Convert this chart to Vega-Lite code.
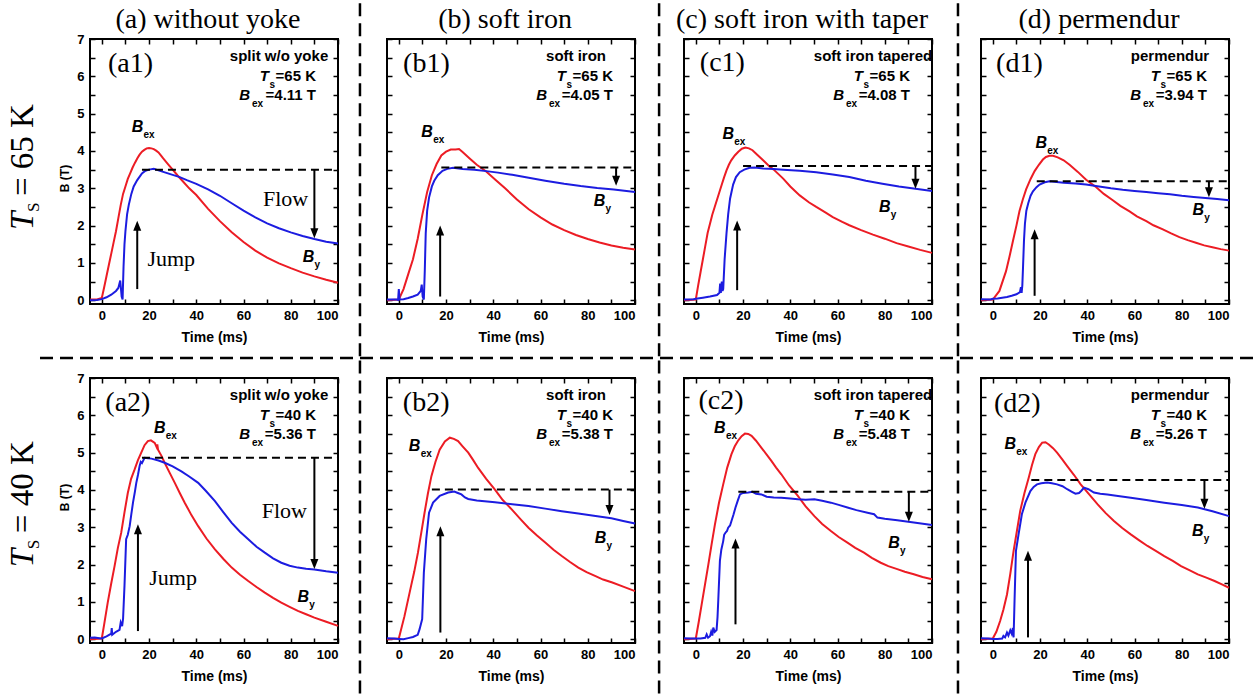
{
"padding": 0,
"background": "white",
"spacing": -3,
"config": {
 "view": {"stroke": "black", "strokeWidth": 2},
 "text": {"color": "black"},
 "rule": {"color": "black"},
 "point": {"color": "black"},
 "axis": {"domain": false, "grid": false, "labelOverlap": false, "tickCount": 50, "tickColor": "black", "tickWidth": 1.5, "tickSize": -5, "labelFont": "Liberation Sans", "labelFontWeight": "bold", "labelFontSize": 13, "labelColor": "black", "titleFont": "Liberation Sans", "titleFontWeight": "bold", "titleColor": "black"},
 "style": {
  "box": {"font": "Liberation Sans", "fontWeight": "bold", "fontSize": 15},
  "sub": {"font": "Liberation Sans", "fontWeight": "bold", "fontSize": 10},
  "bi": {"font": "Liberation Sans", "fontWeight": "bold", "fontStyle": "italic", "fontSize": 15},
  "lab": {"font": "Liberation Sans", "fontWeight": "bold", "fontStyle": "italic", "fontSize": 16},
  "pl": {"font": "Liberation Serif", "fontSize": 28},
  "coltitle": {"font": "Liberation Serif", "fontSize": 28},
  "fj": {"font": "Liberation Serif", "fontSize": 22},
  "rowlab": {"font": "Liberation Serif", "fontSize": 33},
  "arr": {"strokeWidth": 2},
  "dash": {"strokeWidth": 2, "strokeDash": [8, 5]},
  "sep": {"strokeWidth": 2.5, "strokeDash": [13, 7]}
 }
},
"datasets": {"curves": [
{"p":"a1","s":"Bex","t":-5,"B":0.02},{"p":"a1","s":"Bex","t":-2,"B":0.02},{"p":"a1","s":"Bex","t":0,"B":0.06},{"p":"a1","s":"Bex","t":1,"B":0.35},{"p":"a1","s":"Bex","t":2,"B":0.65},{"p":"a1","s":"Bex","t":3,"B":0.95},{"p":"a1","s":"Bex","t":4,"B":1.25},{"p":"a1","s":"Bex","t":5,"B":1.55},{"p":"a1","s":"Bex","t":6,"B":1.85},{"p":"a1","s":"Bex","t":7,"B":2.2},{"p":"a1","s":"Bex","t":8,"B":2.55},{"p":"a1","s":"Bex","t":9,"B":2.85},{"p":"a1","s":"Bex","t":10,"B":3.05},{"p":"a1","s":"Bex","t":11,"B":3.25},{"p":"a1","s":"Bex","t":12,"B":3.4},{"p":"a1","s":"Bex","t":13,"B":3.55},{"p":"a1","s":"Bex","t":14,"B":3.68},{"p":"a1","s":"Bex","t":15,"B":3.8},{"p":"a1","s":"Bex","t":16,"B":3.9},{"p":"a1","s":"Bex","t":17,"B":3.98},{"p":"a1","s":"Bex","t":18,"B":4.03},{"p":"a1","s":"Bex","t":19,"B":4.07},{"p":"a1","s":"Bex","t":20,"B":4.08},{"p":"a1","s":"Bex","t":21,"B":4.07},{"p":"a1","s":"Bex","t":22,"B":4.05},{"p":"a1","s":"Bex","t":23,"B":4.01},{"p":"a1","s":"Bex","t":24,"B":3.96},{"p":"a1","s":"Bex","t":25,"B":3.88},{"p":"a1","s":"Bex","t":26,"B":3.8},{"p":"a1","s":"Bex","t":28,"B":3.65},{"p":"a1","s":"Bex","t":30,"B":3.5},{"p":"a1","s":"Bex","t":32,"B":3.35},{"p":"a1","s":"Bex","t":34,"B":3.21},{"p":"a1","s":"Bex","t":37,"B":3.0},{"p":"a1","s":"Bex","t":40,"B":2.82},{"p":"a1","s":"Bex","t":45,"B":2.45},{"p":"a1","s":"Bex","t":50,"B":2.12},{"p":"a1","s":"Bex","t":55,"B":1.82},{"p":"a1","s":"Bex","t":60,"B":1.56},{"p":"a1","s":"Bex","t":65,"B":1.33},{"p":"a1","s":"Bex","t":70,"B":1.14},{"p":"a1","s":"Bex","t":75,"B":0.99},{"p":"a1","s":"Bex","t":80,"B":0.86},{"p":"a1","s":"Bex","t":85,"B":0.74},{"p":"a1","s":"Bex","t":90,"B":0.64},{"p":"a1","s":"Bex","t":95,"B":0.55},{"p":"a1","s":"Bex","t":100,"B":0.47},
{"p":"a1","s":"By","t":-5,"B":0.0},{"p":"a1","s":"By","t":-2,"B":0.01},{"p":"a1","s":"By","t":0,"B":0.03},{"p":"a1","s":"By","t":2,"B":0.08},{"p":"a1","s":"By","t":4,"B":0.15},{"p":"a1","s":"By","t":6,"B":0.25},{"p":"a1","s":"By","t":7,"B":0.33},{"p":"a1","s":"By","t":7.8,"B":0.53},{"p":"a1","s":"By","t":8.4,"B":0.1},{"p":"a1","s":"By","t":8.8,"B":0.02},{"p":"a1","s":"By","t":9.2,"B":0.9},{"p":"a1","s":"By","t":9.6,"B":1.5},{"p":"a1","s":"By","t":10,"B":1.85},{"p":"a1","s":"By","t":10.7,"B":2.3},{"p":"a1","s":"By","t":11.4,"B":2.55},{"p":"a1","s":"By","t":12.5,"B":2.85},{"p":"a1","s":"By","t":13.5,"B":3.05},{"p":"a1","s":"By","t":15,"B":3.22},{"p":"a1","s":"By","t":17,"B":3.4},{"p":"a1","s":"By","t":18.5,"B":3.47},{"p":"a1","s":"By","t":20,"B":3.5},{"p":"a1","s":"By","t":22,"B":3.52},{"p":"a1","s":"By","t":24,"B":3.48},{"p":"a1","s":"By","t":26,"B":3.44},{"p":"a1","s":"By","t":28,"B":3.4},{"p":"a1","s":"By","t":30,"B":3.36},{"p":"a1","s":"By","t":33,"B":3.3},{"p":"a1","s":"By","t":36,"B":3.22},{"p":"a1","s":"By","t":40,"B":3.12},{"p":"a1","s":"By","t":45,"B":2.97},{"p":"a1","s":"By","t":50,"B":2.8},{"p":"a1","s":"By","t":55,"B":2.6},{"p":"a1","s":"By","t":60,"B":2.4},{"p":"a1","s":"By","t":65,"B":2.22},{"p":"a1","s":"By","t":70,"B":2.06},{"p":"a1","s":"By","t":75,"B":1.93},{"p":"a1","s":"By","t":80,"B":1.82},{"p":"a1","s":"By","t":85,"B":1.72},{"p":"a1","s":"By","t":90,"B":1.64},{"p":"a1","s":"By","t":95,"B":1.57},{"p":"a1","s":"By","t":100,"B":1.52},
{"p":"b1","s":"Bex","t":-5,"B":0.0},{"p":"b1","s":"Bex","t":0,"B":0.02},{"p":"b1","s":"Bex","t":2,"B":0.3},{"p":"b1","s":"Bex","t":4,"B":0.7},{"p":"b1","s":"Bex","t":6,"B":1.1},{"p":"b1","s":"Bex","t":8,"B":1.65},{"p":"b1","s":"Bex","t":10,"B":2.3},{"p":"b1","s":"Bex","t":12,"B":2.9},{"p":"b1","s":"Bex","t":14,"B":3.35},{"p":"b1","s":"Bex","t":16,"B":3.65},{"p":"b1","s":"Bex","t":18,"B":3.88},{"p":"b1","s":"Bex","t":20,"B":3.98},{"p":"b1","s":"Bex","t":22,"B":4.04},{"p":"b1","s":"Bex","t":24,"B":4.04},{"p":"b1","s":"Bex","t":25.5,"B":4.05},{"p":"b1","s":"Bex","t":27,"B":3.97},{"p":"b1","s":"Bex","t":30,"B":3.8},{"p":"b1","s":"Bex","t":33,"B":3.63},{"p":"b1","s":"Bex","t":37,"B":3.45},{"p":"b1","s":"Bex","t":41,"B":3.22},{"p":"b1","s":"Bex","t":45,"B":3.0},{"p":"b1","s":"Bex","t":50,"B":2.7},{"p":"b1","s":"Bex","t":55,"B":2.44},{"p":"b1","s":"Bex","t":60,"B":2.22},{"p":"b1","s":"Bex","t":65,"B":2.03},{"p":"b1","s":"Bex","t":70,"B":1.88},{"p":"b1","s":"Bex","t":75,"B":1.75},{"p":"b1","s":"Bex","t":80,"B":1.64},{"p":"b1","s":"Bex","t":85,"B":1.55},{"p":"b1","s":"Bex","t":90,"B":1.47},{"p":"b1","s":"Bex","t":95,"B":1.41},{"p":"b1","s":"Bex","t":100,"B":1.36},
{"p":"b1","s":"By","t":-5,"B":0.02},{"p":"b1","s":"By","t":-1,"B":0.02},{"p":"b1","s":"By","t":-0.3,"B":0.01},{"p":"b1","s":"By","t":0,"B":0.3},{"p":"b1","s":"By","t":0.3,"B":0.02},{"p":"b1","s":"By","t":2,"B":0.03},{"p":"b1","s":"By","t":4,"B":0.06},{"p":"b1","s":"By","t":6,"B":0.1},{"p":"b1","s":"By","t":8,"B":0.15},{"p":"b1","s":"By","t":9.3,"B":0.25},{"p":"b1","s":"By","t":9.7,"B":0.42},{"p":"b1","s":"By","t":10.1,"B":0.1},{"p":"b1","s":"By","t":10.6,"B":0.02},{"p":"b1","s":"By","t":11,"B":0.8},{"p":"b1","s":"By","t":11.4,"B":1.8},{"p":"b1","s":"By","t":12,"B":2.4},{"p":"b1","s":"By","t":12.8,"B":2.75},{"p":"b1","s":"By","t":14,"B":3.05},{"p":"b1","s":"By","t":15,"B":3.2},{"p":"b1","s":"By","t":16.5,"B":3.35},{"p":"b1","s":"By","t":18.5,"B":3.47},{"p":"b1","s":"By","t":20.5,"B":3.52},{"p":"b1","s":"By","t":23,"B":3.55},{"p":"b1","s":"By","t":27,"B":3.52},{"p":"b1","s":"By","t":32,"B":3.5},{"p":"b1","s":"By","t":37,"B":3.46},{"p":"b1","s":"By","t":42,"B":3.42},{"p":"b1","s":"By","t":48,"B":3.36},{"p":"b1","s":"By","t":55,"B":3.28},{"p":"b1","s":"By","t":62,"B":3.2},{"p":"b1","s":"By","t":70,"B":3.12},{"p":"b1","s":"By","t":77,"B":3.06},{"p":"b1","s":"By","t":84,"B":3.01},{"p":"b1","s":"By","t":91,"B":2.97},{"p":"b1","s":"By","t":100,"B":2.9},
{"p":"c1","s":"Bex","t":-5,"B":0},{"p":"c1","s":"Bex","t":0,"B":0.02},{"p":"c1","s":"Bex","t":1,"B":0.4},{"p":"c1","s":"Bex","t":2,"B":0.75},{"p":"c1","s":"Bex","t":3,"B":1.1},{"p":"c1","s":"Bex","t":4,"B":1.45},{"p":"c1","s":"Bex","t":5,"B":1.8},{"p":"c1","s":"Bex","t":6,"B":2.05},{"p":"c1","s":"Bex","t":7,"B":2.3},{"p":"c1","s":"Bex","t":8,"B":2.5},{"p":"c1","s":"Bex","t":9,"B":2.7},{"p":"c1","s":"Bex","t":10,"B":2.9},{"p":"c1","s":"Bex","t":11,"B":3.1},{"p":"c1","s":"Bex","t":12,"B":3.3},{"p":"c1","s":"Bex","t":13,"B":3.48},{"p":"c1","s":"Bex","t":14,"B":3.63},{"p":"c1","s":"Bex","t":15,"B":3.75},{"p":"c1","s":"Bex","t":16.5,"B":3.88},{"p":"c1","s":"Bex","t":18,"B":3.98},{"p":"c1","s":"Bex","t":19.5,"B":4.06},{"p":"c1","s":"Bex","t":21,"B":4.09},{"p":"c1","s":"Bex","t":22.5,"B":4.07},{"p":"c1","s":"Bex","t":24,"B":4.02},{"p":"c1","s":"Bex","t":26,"B":3.9},{"p":"c1","s":"Bex","t":28.5,"B":3.75},{"p":"c1","s":"Bex","t":31,"B":3.6},{"p":"c1","s":"Bex","t":33,"B":3.5},{"p":"c1","s":"Bex","t":37,"B":3.26},{"p":"c1","s":"Bex","t":40,"B":3.05},{"p":"c1","s":"Bex","t":44,"B":2.81},{"p":"c1","s":"Bex","t":48,"B":2.62},{"p":"c1","s":"Bex","t":51,"B":2.5},{"p":"c1","s":"Bex","t":55,"B":2.35},{"p":"c1","s":"Bex","t":58,"B":2.23},{"p":"c1","s":"Bex","t":62,"B":2.1},{"p":"c1","s":"Bex","t":65,"B":2.01},{"p":"c1","s":"Bex","t":70,"B":1.88},{"p":"c1","s":"Bex","t":75,"B":1.76},{"p":"c1","s":"Bex","t":80,"B":1.65},{"p":"c1","s":"Bex","t":85,"B":1.53},{"p":"c1","s":"Bex","t":90,"B":1.44},{"p":"c1","s":"Bex","t":95,"B":1.35},{"p":"c1","s":"Bex","t":100,"B":1.27},
{"p":"c1","s":"By","t":-5,"B":0.02},{"p":"c1","s":"By","t":-1,"B":0.03},{"p":"c1","s":"By","t":0,"B":0.04},{"p":"c1","s":"By","t":3,"B":0.07},{"p":"c1","s":"By","t":6,"B":0.1},{"p":"c1","s":"By","t":9,"B":0.14},{"p":"c1","s":"By","t":10,"B":0.2},{"p":"c1","s":"By","t":10.3,"B":0.45},{"p":"c1","s":"By","t":10.6,"B":0.2},{"p":"c1","s":"By","t":11,"B":0.5},{"p":"c1","s":"By","t":11.3,"B":0.25},{"p":"c1","s":"By","t":11.6,"B":0.3},{"p":"c1","s":"By","t":12.2,"B":1.1},{"p":"c1","s":"By","t":13,"B":1.8},{"p":"c1","s":"By","t":13.7,"B":2.3},{"p":"c1","s":"By","t":14.5,"B":2.72},{"p":"c1","s":"By","t":15.8,"B":3.1},{"p":"c1","s":"By","t":17,"B":3.3},{"p":"c1","s":"By","t":18.6,"B":3.43},{"p":"c1","s":"By","t":20.5,"B":3.5},{"p":"c1","s":"By","t":22.8,"B":3.55},{"p":"c1","s":"By","t":25,"B":3.56},{"p":"c1","s":"By","t":28.5,"B":3.53},{"p":"c1","s":"By","t":33,"B":3.52},{"p":"c1","s":"By","t":37,"B":3.5},{"p":"c1","s":"By","t":44,"B":3.47},{"p":"c1","s":"By","t":51,"B":3.43},{"p":"c1","s":"By","t":58,"B":3.37},{"p":"c1","s":"By","t":65,"B":3.3},{"p":"c1","s":"By","t":72,"B":3.2},{"p":"c1","s":"By","t":79,"B":3.12},{"p":"c1","s":"By","t":86,"B":3.05},{"p":"c1","s":"By","t":93,"B":2.99},{"p":"c1","s":"By","t":100,"B":2.93},
{"p":"d1","s":"Bex","t":-5,"B":0},{"p":"d1","s":"Bex","t":0,"B":0.02},{"p":"d1","s":"Bex","t":2.8,"B":0.25},{"p":"d1","s":"Bex","t":5.6,"B":0.78},{"p":"d1","s":"Bex","t":7,"B":1.15},{"p":"d1","s":"Bex","t":8.5,"B":1.58},{"p":"d1","s":"Bex","t":10,"B":2.0},{"p":"d1","s":"Bex","t":11.3,"B":2.39},{"p":"d1","s":"Bex","t":12.7,"B":2.7},{"p":"d1","s":"Bex","t":14.1,"B":2.97},{"p":"d1","s":"Bex","t":16,"B":3.25},{"p":"d1","s":"Bex","t":17.7,"B":3.46},{"p":"d1","s":"Bex","t":19.5,"B":3.63},{"p":"d1","s":"Bex","t":21.2,"B":3.77},{"p":"d1","s":"Bex","t":22.5,"B":3.84},{"p":"d1","s":"Bex","t":24,"B":3.87},{"p":"d1","s":"Bex","t":25.5,"B":3.87},{"p":"d1","s":"Bex","t":27.5,"B":3.83},{"p":"d1","s":"Bex","t":30,"B":3.75},{"p":"d1","s":"Bex","t":32.5,"B":3.63},{"p":"d1","s":"Bex","t":36,"B":3.44},{"p":"d1","s":"Bex","t":39.5,"B":3.23},{"p":"d1","s":"Bex","t":43.8,"B":3.03},{"p":"d1","s":"Bex","t":47,"B":2.85},{"p":"d1","s":"Bex","t":50.8,"B":2.68},{"p":"d1","s":"Bex","t":54,"B":2.53},{"p":"d1","s":"Bex","t":57.9,"B":2.38},{"p":"d1","s":"Bex","t":61,"B":2.25},{"p":"d1","s":"Bex","t":65,"B":2.12},{"p":"d1","s":"Bex","t":68,"B":2.01},{"p":"d1","s":"Bex","t":72,"B":1.9},{"p":"d1","s":"Bex","t":75.5,"B":1.79},{"p":"d1","s":"Bex","t":79,"B":1.69},{"p":"d1","s":"Bex","t":82.5,"B":1.61},{"p":"d1","s":"Bex","t":86,"B":1.54},{"p":"d1","s":"Bex","t":89.5,"B":1.47},{"p":"d1","s":"Bex","t":93,"B":1.42},{"p":"d1","s":"Bex","t":96.5,"B":1.37},{"p":"d1","s":"Bex","t":100,"B":1.33},
{"p":"d1","s":"By","t":-5,"B":0.03},{"p":"d1","s":"By","t":-1,"B":0.02},{"p":"d1","s":"By","t":0,"B":0.04},{"p":"d1","s":"By","t":2,"B":0.05},{"p":"d1","s":"By","t":4,"B":0.07},{"p":"d1","s":"By","t":6,"B":0.09},{"p":"d1","s":"By","t":8,"B":0.12},{"p":"d1","s":"By","t":10,"B":0.16},{"p":"d1","s":"By","t":11.5,"B":0.22},{"p":"d1","s":"By","t":11.9,"B":0.35},{"p":"d1","s":"By","t":12.2,"B":0.2},{"p":"d1","s":"By","t":12.5,"B":0.4},{"p":"d1","s":"By","t":12.8,"B":0.9},{"p":"d1","s":"By","t":13.2,"B":1.6},{"p":"d1","s":"By","t":13.6,"B":2.05},{"p":"d1","s":"By","t":14.2,"B":2.4},{"p":"d1","s":"By","t":15,"B":2.6},{"p":"d1","s":"By","t":16,"B":2.8},{"p":"d1","s":"By","t":17,"B":2.92},{"p":"d1","s":"By","t":18.5,"B":3.03},{"p":"d1","s":"By","t":19.8,"B":3.1},{"p":"d1","s":"By","t":22,"B":3.16},{"p":"d1","s":"By","t":24,"B":3.19},{"p":"d1","s":"By","t":27,"B":3.17},{"p":"d1","s":"By","t":30,"B":3.15},{"p":"d1","s":"By","t":35,"B":3.13},{"p":"d1","s":"By","t":39.5,"B":3.1},{"p":"d1","s":"By","t":45,"B":3.05},{"p":"d1","s":"By","t":50,"B":3.0},{"p":"d1","s":"By","t":55,"B":2.96},{"p":"d1","s":"By","t":60,"B":2.93},{"p":"d1","s":"By","t":65,"B":2.9},{"p":"d1","s":"By","t":70,"B":2.87},{"p":"d1","s":"By","t":75,"B":2.84},{"p":"d1","s":"By","t":80,"B":2.8},{"p":"d1","s":"By","t":85,"B":2.77},{"p":"d1","s":"By","t":90,"B":2.74},{"p":"d1","s":"By","t":95,"B":2.71},{"p":"d1","s":"By","t":100,"B":2.68},
{"p":"a2","s":"Bex","t":-5,"B":0},{"p":"a2","s":"Bex","t":0,"B":0.02},{"p":"a2","s":"Bex","t":1,"B":0.4},{"p":"a2","s":"Bex","t":2.5,"B":0.98},{"p":"a2","s":"Bex","t":4,"B":1.5},{"p":"a2","s":"Bex","t":5.4,"B":1.96},{"p":"a2","s":"Bex","t":6.8,"B":2.45},{"p":"a2","s":"Bex","t":8.2,"B":2.85},{"p":"a2","s":"Bex","t":9.6,"B":3.4},{"p":"a2","s":"Bex","t":11,"B":3.92},{"p":"a2","s":"Bex","t":12.4,"B":4.3},{"p":"a2","s":"Bex","t":13.9,"B":4.55},{"p":"a2","s":"Bex","t":15.3,"B":4.8},{"p":"a2","s":"Bex","t":16.7,"B":5.0},{"p":"a2","s":"Bex","t":18.1,"B":5.2},{"p":"a2","s":"Bex","t":19.5,"B":5.31},{"p":"a2","s":"Bex","t":20.8,"B":5.33},{"p":"a2","s":"Bex","t":22.4,"B":5.26},{"p":"a2","s":"Bex","t":23.2,"B":5.15},{"p":"a2","s":"Bex","t":23.5,"B":5.22},{"p":"a2","s":"Bex","t":23.8,"B":5.08},{"p":"a2","s":"Bex","t":25.2,"B":4.92},{"p":"a2","s":"Bex","t":26.6,"B":4.73},{"p":"a2","s":"Bex","t":28.8,"B":4.45},{"p":"a2","s":"Bex","t":30.9,"B":4.19},{"p":"a2","s":"Bex","t":33,"B":3.92},{"p":"a2","s":"Bex","t":35.1,"B":3.66},{"p":"a2","s":"Bex","t":38,"B":3.32},{"p":"a2","s":"Bex","t":40.8,"B":3.03},{"p":"a2","s":"Bex","t":44.3,"B":2.7},{"p":"a2","s":"Bex","t":47.9,"B":2.41},{"p":"a2","s":"Bex","t":51.5,"B":2.15},{"p":"a2","s":"Bex","t":55,"B":1.92},{"p":"a2","s":"Bex","t":58.5,"B":1.73},{"p":"a2","s":"Bex","t":62,"B":1.56},{"p":"a2","s":"Bex","t":65.5,"B":1.4},{"p":"a2","s":"Bex","t":69,"B":1.25},{"p":"a2","s":"Bex","t":72.5,"B":1.11},{"p":"a2","s":"Bex","t":76,"B":0.98},{"p":"a2","s":"Bex","t":79.5,"B":0.87},{"p":"a2","s":"Bex","t":83,"B":0.76},{"p":"a2","s":"Bex","t":86.5,"B":0.67},{"p":"a2","s":"Bex","t":90,"B":0.58},{"p":"a2","s":"Bex","t":95,"B":0.47},{"p":"a2","s":"Bex","t":100,"B":0.36},
{"p":"a2","s":"By","t":-5,"B":0.04},{"p":"a2","s":"By","t":-3,"B":0.05},{"p":"a2","s":"By","t":-1,"B":0.03},{"p":"a2","s":"By","t":0,"B":0.02},{"p":"a2","s":"By","t":2,"B":0.08},{"p":"a2","s":"By","t":4,"B":0.15},{"p":"a2","s":"By","t":4.2,"B":0.3},{"p":"a2","s":"By","t":4.4,"B":0.12},{"p":"a2","s":"By","t":6,"B":0.2},{"p":"a2","s":"By","t":7.5,"B":0.25},{"p":"a2","s":"By","t":8,"B":0.45},{"p":"a2","s":"By","t":8.6,"B":0.35},{"p":"a2","s":"By","t":9,"B":0.55},{"p":"a2","s":"By","t":9.6,"B":1.43},{"p":"a2","s":"By","t":10.3,"B":2.68},{"p":"a2","s":"By","t":11,"B":2.8},{"p":"a2","s":"By","t":11.8,"B":3.03},{"p":"a2","s":"By","t":12.5,"B":3.35},{"p":"a2","s":"By","t":13.2,"B":3.66},{"p":"a2","s":"By","t":14,"B":3.95},{"p":"a2","s":"By","t":14.6,"B":4.19},{"p":"a2","s":"By","t":15.3,"B":4.4},{"p":"a2","s":"By","t":16,"B":4.64},{"p":"a2","s":"By","t":16.5,"B":4.75},{"p":"a2","s":"By","t":17,"B":4.72},{"p":"a2","s":"By","t":18.1,"B":4.86},{"p":"a2","s":"By","t":19.5,"B":4.85},{"p":"a2","s":"By","t":21,"B":4.84},{"p":"a2","s":"By","t":24,"B":4.79},{"p":"a2","s":"By","t":26.6,"B":4.73},{"p":"a2","s":"By","t":30,"B":4.63},{"p":"a2","s":"By","t":33.7,"B":4.5},{"p":"a2","s":"By","t":37,"B":4.36},{"p":"a2","s":"By","t":40.8,"B":4.19},{"p":"a2","s":"By","t":44,"B":3.98},{"p":"a2","s":"By","t":47.9,"B":3.7},{"p":"a2","s":"By","t":51.5,"B":3.4},{"p":"a2","s":"By","t":55,"B":3.12},{"p":"a2","s":"By","t":58.5,"B":2.88},{"p":"a2","s":"By","t":62,"B":2.68},{"p":"a2","s":"By","t":65.5,"B":2.48},{"p":"a2","s":"By","t":69,"B":2.32},{"p":"a2","s":"By","t":72.5,"B":2.17},{"p":"a2","s":"By","t":76,"B":2.05},{"p":"a2","s":"By","t":79.5,"B":1.97},{"p":"a2","s":"By","t":83,"B":1.92},{"p":"a2","s":"By","t":86.5,"B":1.89},{"p":"a2","s":"By","t":90,"B":1.87},{"p":"a2","s":"By","t":95,"B":1.82},{"p":"a2","s":"By","t":100,"B":1.78},
{"p":"b2","s":"Bex","t":-5,"B":0},{"p":"b2","s":"Bex","t":0,"B":0.02},{"p":"b2","s":"Bex","t":2.4,"B":0.62},{"p":"b2","s":"Bex","t":5.2,"B":1.43},{"p":"b2","s":"Bex","t":6.5,"B":1.8},{"p":"b2","s":"Bex","t":8.1,"B":2.32},{"p":"b2","s":"Bex","t":9.5,"B":2.85},{"p":"b2","s":"Bex","t":10.9,"B":3.39},{"p":"b2","s":"Bex","t":12.3,"B":3.9},{"p":"b2","s":"Bex","t":13.8,"B":4.37},{"p":"b2","s":"Bex","t":15.5,"B":4.75},{"p":"b2","s":"Bex","t":17.3,"B":5.08},{"p":"b2","s":"Bex","t":19.5,"B":5.3},{"p":"b2","s":"Bex","t":21.6,"B":5.4},{"p":"b2","s":"Bex","t":23.3,"B":5.37},{"p":"b2","s":"Bex","t":25.1,"B":5.31},{"p":"b2","s":"Bex","t":27,"B":5.17},{"p":"b2","s":"Bex","t":29.4,"B":5.0},{"p":"b2","s":"Bex","t":31.5,"B":4.8},{"p":"b2","s":"Bex","t":33.6,"B":4.59},{"p":"b2","s":"Bex","t":37,"B":4.3},{"p":"b2","s":"Bex","t":40.7,"B":4.01},{"p":"b2","s":"Bex","t":44,"B":3.73},{"p":"b2","s":"Bex","t":47.8,"B":3.48},{"p":"b2","s":"Bex","t":51.5,"B":3.22},{"p":"b2","s":"Bex","t":54.9,"B":2.99},{"p":"b2","s":"Bex","t":58.5,"B":2.78},{"p":"b2","s":"Bex","t":62,"B":2.59},{"p":"b2","s":"Bex","t":65.5,"B":2.4},{"p":"b2","s":"Bex","t":69,"B":2.23},{"p":"b2","s":"Bex","t":72.5,"B":2.07},{"p":"b2","s":"Bex","t":76,"B":1.92},{"p":"b2","s":"Bex","t":79.5,"B":1.8},{"p":"b2","s":"Bex","t":83.3,"B":1.69},{"p":"b2","s":"Bex","t":86.5,"B":1.6},{"p":"b2","s":"Bex","t":90.4,"B":1.52},{"p":"b2","s":"Bex","t":95,"B":1.41},{"p":"b2","s":"Bex","t":100,"B":1.29},
{"p":"b2","s":"By","t":-5,"B":0.03},{"p":"b2","s":"By","t":-2,"B":0.02},{"p":"b2","s":"By","t":0,"B":0.01},{"p":"b2","s":"By","t":2,"B":0.0},{"p":"b2","s":"By","t":4,"B":0.03},{"p":"b2","s":"By","t":6,"B":0.06},{"p":"b2","s":"By","t":8,"B":0.12},{"p":"b2","s":"By","t":8.8,"B":0.27},{"p":"b2","s":"By","t":9.9,"B":0.54},{"p":"b2","s":"By","t":10.6,"B":1.78},{"p":"b2","s":"By","t":11.6,"B":2.68},{"p":"b2","s":"By","t":12.8,"B":3.39},{"p":"b2","s":"By","t":14.5,"B":3.66},{"p":"b2","s":"By","t":17.3,"B":3.84},{"p":"b2","s":"By","t":20.9,"B":3.93},{"p":"b2","s":"By","t":23.5,"B":3.96},{"p":"b2","s":"By","t":25,"B":3.92},{"p":"b2","s":"By","t":26.5,"B":3.88},{"p":"b2","s":"By","t":28,"B":3.8},{"p":"b2","s":"By","t":29.4,"B":3.76},{"p":"b2","s":"By","t":33,"B":3.72},{"p":"b2","s":"By","t":40.7,"B":3.67},{"p":"b2","s":"By","t":48,"B":3.62},{"p":"b2","s":"By","t":54.9,"B":3.57},{"p":"b2","s":"By","t":62,"B":3.5},{"p":"b2","s":"By","t":69,"B":3.43},{"p":"b2","s":"By","t":76,"B":3.37},{"p":"b2","s":"By","t":83.3,"B":3.3},{"p":"b2","s":"By","t":90,"B":3.24},{"p":"b2","s":"By","t":95,"B":3.17},{"p":"b2","s":"By","t":100,"B":3.1},
{"p":"c2","s":"Bex","t":-5,"B":0},{"p":"c2","s":"Bex","t":0,"B":0.02},{"p":"c2","s":"Bex","t":1.2,"B":0.45},{"p":"c2","s":"Bex","t":2.5,"B":0.94},{"p":"c2","s":"Bex","t":3.9,"B":1.47},{"p":"c2","s":"Bex","t":5.3,"B":2.0},{"p":"c2","s":"Bex","t":6.7,"B":2.55},{"p":"c2","s":"Bex","t":8.1,"B":3.08},{"p":"c2","s":"Bex","t":9.8,"B":3.65},{"p":"c2","s":"Bex","t":11.6,"B":4.15},{"p":"c2","s":"Bex","t":13.3,"B":4.6},{"p":"c2","s":"Bex","t":15.1,"B":4.96},{"p":"c2","s":"Bex","t":16.5,"B":5.17},{"p":"c2","s":"Bex","t":18,"B":5.33},{"p":"c2","s":"Bex","t":19.4,"B":5.44},{"p":"c2","s":"Bex","t":20.8,"B":5.51},{"p":"c2","s":"Bex","t":22.2,"B":5.5},{"p":"c2","s":"Bex","t":23.6,"B":5.45},{"p":"c2","s":"Bex","t":25.5,"B":5.32},{"p":"c2","s":"Bex","t":27.8,"B":5.13},{"p":"c2","s":"Bex","t":30,"B":4.95},{"p":"c2","s":"Bex","t":32,"B":4.78},{"p":"c2","s":"Bex","t":34,"B":4.6},{"p":"c2","s":"Bex","t":36.2,"B":4.42},{"p":"c2","s":"Bex","t":39.5,"B":4.12},{"p":"c2","s":"Bex","t":43.2,"B":3.84},{"p":"c2","s":"Bex","t":46.5,"B":3.56},{"p":"c2","s":"Bex","t":50.2,"B":3.3},{"p":"c2","s":"Bex","t":53.5,"B":3.09},{"p":"c2","s":"Bex","t":57.2,"B":2.9},{"p":"c2","s":"Bex","t":60.5,"B":2.74},{"p":"c2","s":"Bex","t":64.2,"B":2.59},{"p":"c2","s":"Bex","t":67.5,"B":2.45},{"p":"c2","s":"Bex","t":71.2,"B":2.32},{"p":"c2","s":"Bex","t":74.5,"B":2.18},{"p":"c2","s":"Bex","t":78.3,"B":2.05},{"p":"c2","s":"Bex","t":81.5,"B":1.96},{"p":"c2","s":"Bex","t":85.3,"B":1.88},{"p":"c2","s":"Bex","t":88.5,"B":1.81},{"p":"c2","s":"Bex","t":92.3,"B":1.74},{"p":"c2","s":"Bex","t":96,"B":1.67},{"p":"c2","s":"Bex","t":100,"B":1.61},
{"p":"c2","s":"By","t":-5,"B":0.03},{"p":"c2","s":"By","t":-2,"B":0.02},{"p":"c2","s":"By","t":0,"B":0.02},{"p":"c2","s":"By","t":2,"B":0.02},{"p":"c2","s":"By","t":4,"B":0.04},{"p":"c2","s":"By","t":4.6,"B":0.13},{"p":"c2","s":"By","t":5.2,"B":0.04},{"p":"c2","s":"By","t":6,"B":0.08},{"p":"c2","s":"By","t":6.5,"B":0.2},{"p":"c2","s":"By","t":7,"B":0.1},{"p":"c2","s":"By","t":7.4,"B":0.31},{"p":"c2","s":"By","t":8,"B":0.2},{"p":"c2","s":"By","t":8.8,"B":0.25},{"p":"c2","s":"By","t":9.2,"B":0.6},{"p":"c2","s":"By","t":9.5,"B":1.03},{"p":"c2","s":"By","t":10.2,"B":2.1},{"p":"c2","s":"By","t":10.8,"B":2.4},{"p":"c2","s":"By","t":11.6,"B":2.63},{"p":"c2","s":"By","t":12,"B":2.8},{"p":"c2","s":"By","t":12.6,"B":2.86},{"p":"c2","s":"By","t":13.2,"B":2.9},{"p":"c2","s":"By","t":13.7,"B":2.99},{"p":"c2","s":"By","t":14.5,"B":3.05},{"p":"c2","s":"By","t":15.1,"B":3.17},{"p":"c2","s":"By","t":16,"B":3.35},{"p":"c2","s":"By","t":16.8,"B":3.53},{"p":"c2","s":"By","t":17.8,"B":3.72},{"p":"c2","s":"By","t":18.7,"B":3.88},{"p":"c2","s":"By","t":20,"B":3.92},{"p":"c2","s":"By","t":22.2,"B":3.93},{"p":"c2","s":"By","t":24,"B":3.95},{"p":"c2","s":"By","t":25.5,"B":3.9},{"p":"c2","s":"By","t":27.8,"B":3.88},{"p":"c2","s":"By","t":30,"B":3.82},{"p":"c2","s":"By","t":33,"B":3.8},{"p":"c2","s":"By","t":36.2,"B":3.79},{"p":"c2","s":"By","t":40,"B":3.77},{"p":"c2","s":"By","t":43.2,"B":3.75},{"p":"c2","s":"By","t":46.5,"B":3.74},{"p":"c2","s":"By","t":50.2,"B":3.75},{"p":"c2","s":"By","t":53.5,"B":3.71},{"p":"c2","s":"By","t":57.2,"B":3.66},{"p":"c2","s":"By","t":60.5,"B":3.6},{"p":"c2","s":"By","t":64.2,"B":3.53},{"p":"c2","s":"By","t":68,"B":3.46},{"p":"c2","s":"By","t":72.7,"B":3.39},{"p":"c2","s":"By","t":75.5,"B":3.35},{"p":"c2","s":"By","t":76.9,"B":3.26},{"p":"c2","s":"By","t":80,"B":3.23},{"p":"c2","s":"By","t":85.3,"B":3.19},{"p":"c2","s":"By","t":92.3,"B":3.13},{"p":"c2","s":"By","t":100,"B":3.06},
{"p":"d2","s":"Bex","t":-5,"B":0},{"p":"d2","s":"Bex","t":0,"B":0.02},{"p":"d2","s":"Bex","t":1.5,"B":0.2},{"p":"d2","s":"Bex","t":3.1,"B":0.49},{"p":"d2","s":"Bex","t":4.5,"B":0.8},{"p":"d2","s":"Bex","t":6,"B":1.2},{"p":"d2","s":"Bex","t":7.4,"B":1.75},{"p":"d2","s":"Bex","t":8.8,"B":2.37},{"p":"d2","s":"Bex","t":10.2,"B":2.9},{"p":"d2","s":"Bex","t":11.6,"B":3.44},{"p":"d2","s":"Bex","t":13.4,"B":3.92},{"p":"d2","s":"Bex","t":15.2,"B":4.33},{"p":"d2","s":"Bex","t":16.6,"B":4.67},{"p":"d2","s":"Bex","t":18,"B":4.96},{"p":"d2","s":"Bex","t":19.5,"B":5.15},{"p":"d2","s":"Bex","t":20.9,"B":5.27},{"p":"d2","s":"Bex","t":22.3,"B":5.28},{"p":"d2","s":"Bex","t":23.7,"B":5.22},{"p":"d2","s":"Bex","t":25.5,"B":5.12},{"p":"d2","s":"Bex","t":27.2,"B":5.0},{"p":"d2","s":"Bex","t":29.4,"B":4.82},{"p":"d2","s":"Bex","t":31.5,"B":4.64},{"p":"d2","s":"Bex","t":34.4,"B":4.4},{"p":"d2","s":"Bex","t":37.2,"B":4.15},{"p":"d2","s":"Bex","t":40.8,"B":3.88},{"p":"d2","s":"Bex","t":44.3,"B":3.62},{"p":"d2","s":"Bex","t":47.8,"B":3.38},{"p":"d2","s":"Bex","t":51.3,"B":3.17},{"p":"d2","s":"Bex","t":54.8,"B":2.98},{"p":"d2","s":"Bex","t":58.4,"B":2.81},{"p":"d2","s":"Bex","t":62,"B":2.65},{"p":"d2","s":"Bex","t":65.5,"B":2.5},{"p":"d2","s":"Bex","t":69,"B":2.37},{"p":"d2","s":"Bex","t":72.6,"B":2.23},{"p":"d2","s":"Bex","t":76.2,"B":2.1},{"p":"d2","s":"Bex","t":79.7,"B":1.96},{"p":"d2","s":"Bex","t":83.2,"B":1.85},{"p":"d2","s":"Bex","t":86.8,"B":1.74},{"p":"d2","s":"Bex","t":90.4,"B":1.65},{"p":"d2","s":"Bex","t":93.9,"B":1.56},{"p":"d2","s":"Bex","t":97,"B":1.47},{"p":"d2","s":"Bex","t":100,"B":1.38},
{"p":"d2","s":"By","t":-5,"B":0.03},{"p":"d2","s":"By","t":-2,"B":0.02},{"p":"d2","s":"By","t":0,"B":0.01},{"p":"d2","s":"By","t":2,"B":0.01},{"p":"d2","s":"By","t":4,"B":0.02},{"p":"d2","s":"By","t":4.5,"B":0.09},{"p":"d2","s":"By","t":5.2,"B":0.05},{"p":"d2","s":"By","t":6,"B":0.18},{"p":"d2","s":"By","t":6.6,"B":0.1},{"p":"d2","s":"By","t":7.4,"B":0.24},{"p":"d2","s":"By","t":8,"B":0.15},{"p":"d2","s":"By","t":8.5,"B":0.3},{"p":"d2","s":"By","t":8.8,"B":0.05},{"p":"d2","s":"By","t":9.2,"B":1.03},{"p":"d2","s":"By","t":9.8,"B":2.37},{"p":"d2","s":"By","t":10.9,"B":2.81},{"p":"d2","s":"By","t":12.3,"B":3.35},{"p":"d2","s":"By","t":13.8,"B":3.66},{"p":"d2","s":"By","t":15.9,"B":3.97},{"p":"d2","s":"By","t":17.3,"B":4.08},{"p":"d2","s":"By","t":18.7,"B":4.15},{"p":"d2","s":"By","t":20.5,"B":4.18},{"p":"d2","s":"By","t":23,"B":4.2},{"p":"d2","s":"By","t":25,"B":4.18},{"p":"d2","s":"By","t":27.2,"B":4.15},{"p":"d2","s":"By","t":29.5,"B":4.1},{"p":"d2","s":"By","t":31.5,"B":4.02},{"p":"d2","s":"By","t":33.5,"B":3.95},{"p":"d2","s":"By","t":35,"B":3.9},{"p":"d2","s":"By","t":36.5,"B":3.92},{"p":"d2","s":"By","t":37.5,"B":3.98},{"p":"d2","s":"By","t":38.6,"B":4.06},{"p":"d2","s":"By","t":40.5,"B":4.02},{"p":"d2","s":"By","t":42.8,"B":3.93},{"p":"d2","s":"By","t":45.5,"B":3.9},{"p":"d2","s":"By","t":48.5,"B":3.88},{"p":"d2","s":"By","t":53,"B":3.84},{"p":"d2","s":"By","t":58.4,"B":3.79},{"p":"d2","s":"By","t":65,"B":3.73},{"p":"d2","s":"By","t":72.6,"B":3.66},{"p":"d2","s":"By","t":80,"B":3.6},{"p":"d2","s":"By","t":86.8,"B":3.53},{"p":"d2","s":"By","t":93,"B":3.43},{"p":"d2","s":"By","t":100,"B":3.3}
]},
"vconcat": [
{"hconcat": [
{
 "width": 248, "height": 265,
 "resolve": {"axis": {"x": "independent", "y": "independent"}},
 "layer": [
  {"layer": [
   {"data": {"name": "curves"}, "transform": [{"filter": "datum.p == 'a1'"}],
    "mark": {"type": "line", "strokeWidth": 2},
    "encoding": {
     "x": {"field": "t", "type": "quantitative", "scale": {"domain": [-5, 100], "nice": false, "zero": false}, "axis": {"orient": "bottom", "values": [0,10,20,30,40,50,60,70,80,90,100], "tickCount": 50, "labelExpr": "datum.value % 20 == 0 ? datum.label : ''", "labelOverlap": false, "labelPadding": 10, "title": "Time (ms)", "titleFontSize": 14, "titlePadding": 8}},
     "y": {"field": "B", "type": "quantitative", "scale": {"domain": [-0.1, 7], "nice": false, "zero": false}, "axis": {"orient": "left", "values": [0,0.5,1,1.5,2,2.5,3,3.5,4,4.5,5,5.5,6,6.5,7], "tickCount": 50, "labelExpr": "datum.value % 1 == 0 ? format(datum.value, 'd') : ''", "labelOverlap": false, "labelPadding": 11, "title": "B (T)", "titleFontSize": 12, "titleX": -26, "titleY": 139, "titleAngle": 270, "titleAlign": "center", "titleBaseline": "middle"}},
     "color": {"field": "s", "type": "nominal", "scale": {"domain": ["Bex", "By"], "range": ["#ec1c24", "#1c1ce0"]}, "legend": null}
    }},
   {"data": {"values": [{}]}, "layer": [
    {"mark": {"type": "text", "style": "coltitle", "text": "(a) without yoke", "align": "center", "baseline": "alphabetic"}, "encoding": {"x": {"datum": 44.96}, "y": {"datum": 7.295}}},
    {"mark": {"type": "rule", "style": "dash"}, "encoding": {"x": {"datum": 17}, "x2": {"datum": 100}, "y": {"datum": 3.5}}},
    {"mark": {"type": "rule", "style": "arr"}, "encoding": {"x": {"datum": 90}, "y": {"datum": 3.5}, "y2": {"datum": 1.8}}},
    {"mark": {"type": "point", "shape": "M-1,-2.5L1,-2.5L0,0Z", "filled": true, "size": 64, "opacity": 1}, "encoding": {"x": {"datum": 90}, "y": {"datum": 1.66}}},
    {"mark": {"type": "rule", "style": "arr"}, "encoding": {"x": {"datum": 15}, "y": {"datum": 0.3}, "y2": {"datum": 2.0}}},
    {"mark": {"type": "point", "shape": "M-1,2.5L1,2.5L0,0Z", "filled": true, "size": 64, "opacity": 1}, "encoding": {"x": {"datum": 15}, "y": {"datum": 2.13}}},
    {"mark": {"type": "text", "style": "pl", "text": "(a1)", "align": "left", "baseline": "middle"}, "encoding": {"x": {"datum": 2.6}, "y": {"datum": 6.33}}},
    {"mark": {"type": "text", "style": "box", "text": "split w/o yoke", "align": "center", "baseline": "alphabetic", "dx": -37}, "encoding": {"x": {"datum": 90.7}, "y": {"datum": 6.41}}},
    {"mark": {"type": "text", "style": "bi", "text": "T", "align": "right", "baseline": "alphabetic", "dx": -47}, "encoding": {"x": {"datum": 90.7}, "y": {"datum": 5.87}}},
    {"mark": {"type": "text", "style": "sub", "text": "s", "align": "right", "baseline": "alphabetic", "dx": -41, "dy": 7}, "encoding": {"x": {"datum": 90.7}, "y": {"datum": 5.87}}},
    {"mark": {"type": "text", "style": "box", "text": "=65 K", "align": "right", "baseline": "alphabetic"}, "encoding": {"x": {"datum": 90.7}, "y": {"datum": 5.87}}},
    {"mark": {"type": "text", "style": "bi", "text": "B", "align": "right", "baseline": "alphabetic", "dx": -66}, "encoding": {"x": {"datum": 90.7}, "y": {"datum": 5.37}}},
    {"mark": {"type": "text", "style": "sub", "text": "ex", "align": "right", "baseline": "alphabetic", "dx": -53, "dy": 7}, "encoding": {"x": {"datum": 90.7}, "y": {"datum": 5.37}}},
    {"mark": {"type": "text", "style": "box", "text": "=4.11 T", "align": "right", "baseline": "alphabetic"}, "encoding": {"x": {"datum": 90.7}, "y": {"datum": 5.37}}},
    {"mark": {"type": "text", "style": "lab", "text": "B", "align": "center", "baseline": "middle"}, "encoding": {"x": {"datum": 15.1}, "y": {"datum": 4.65}}},
    {"mark": {"type": "text", "style": "sub", "text": "ex", "align": "left", "baseline": "middle", "dx": 6, "dy": 8}, "encoding": {"x": {"datum": 15.1}, "y": {"datum": 4.65}}},
    {"mark": {"type": "text", "style": "lab", "text": "B", "align": "center", "baseline": "middle"}, "encoding": {"x": {"datum": 87.5}, "y": {"datum": 1.15}}},
    {"mark": {"type": "text", "style": "sub", "text": "y", "align": "left", "baseline": "middle", "dx": 6, "dy": 8}, "encoding": {"x": {"datum": 87.5}, "y": {"datum": 1.15}}},
    {"mark": {"type": "text", "style": "fj", "text": "Flow", "align": "center", "baseline": "middle"}, "encoding": {"x": {"datum": 77.8}, "y": {"datum": 2.7}}},
    {"mark": {"type": "text", "style": "fj", "text": "Jump", "align": "center", "baseline": "middle"}, "encoding": {"x": {"datum": 29.4}, "y": {"datum": 1.11}}},
    {"mark": {"type": "text", "style": "rowlab", "text": "T", "fontStyle": "italic", "align": "left", "baseline": "alphabetic", "angle": 270}, "encoding": {"x": {"datum": -29.1}, "y": {"datum": 1.88}}},
    {"mark": {"type": "text", "style": "rowlab", "text": "S", "fontSize": 17, "align": "left", "baseline": "alphabetic", "angle": 270, "dx": 18, "dy": 6}, "encoding": {"x": {"datum": -29.1}, "y": {"datum": 1.88}}},
    {"mark": {"type": "text", "style": "rowlab", "text": "= 65 K", "align": "left", "baseline": "alphabetic", "angle": 270, "dx": 34}, "encoding": {"x": {"datum": -29.1}, "y": {"datum": 1.88}}},
    {"mark": {"type": "rule", "style": "sep"}, "encoding": {"x": {"datum": 109.3}, "y": {"datum": 7.958}, "y2": {"datum": -1.52}}},
    {"mark": {"type": "rule", "style": "sep"}, "encoding": {"x": {"datum": -26.17}, "x2": {"datum": 490.8}, "y": {"datum": -1.548}}},
    {"mark": {"type": "rule", "color": "white", "strokeWidth": 1}, "encoding": {"x": {"datum": -42.05}, "x2": {"datum": -40}, "y": {"datum": -1.548}}}
   ]}
  ]},
  {"data": {"values": [{}]}, "mark": {"type": "point", "opacity": 0},
   "encoding": {
    "x": {"datum": 0, "type": "quantitative", "scale": {"domain": [-5, 100], "nice": false, "zero": false}, "axis": {"orient": "top", "values": [0,10,20,30,40,50,60,70,80,90,100], "tickCount": 50, "labels": false, "title": null}},
    "y": {"datum": 0, "type": "quantitative", "scale": {"domain": [-0.1, 7], "nice": false, "zero": false}, "axis": {"orient": "right", "values": [0,0.5,1,1.5,2,2.5,3,3.5,4,4.5,5,5.5,6,6.5,7], "tickCount": 50, "labels": false, "title": null}}
   }}
 ]
},
{
 "width": 248, "height": 265,
 "resolve": {"axis": {"x": "independent", "y": "independent"}},
 "layer": [
  {"layer": [
   {"data": {"name": "curves"}, "transform": [{"filter": "datum.p == 'b1'"}],
    "mark": {"type": "line", "strokeWidth": 2},
    "encoding": {
     "x": {"field": "t", "type": "quantitative", "scale": {"domain": [-5, 100], "nice": false, "zero": false}, "axis": {"orient": "bottom", "values": [0,10,20,30,40,50,60,70,80,90,100], "tickCount": 50, "labelExpr": "datum.value % 20 == 0 ? datum.label : ''", "labelOverlap": false, "labelPadding": 10, "title": "Time (ms)", "titleFontSize": 14, "titlePadding": 8}},
     "y": {"field": "B", "type": "quantitative", "scale": {"domain": [-0.1, 7], "nice": false, "zero": false}, "axis": {"orient": "left", "values": [0,0.5,1,1.5,2,2.5,3,3.5,4,4.5,5,5.5,6,6.5,7], "tickCount": 50, "labels": false, "title": null}},
     "color": {"field": "s", "type": "nominal", "scale": {"domain": ["Bex", "By"], "range": ["#ec1c24", "#1c1ce0"]}, "legend": null}
    }},
   {"data": {"values": [{}]}, "layer": [
    {"mark": {"type": "text", "style": "coltitle", "text": "(b) soft iron", "align": "center", "baseline": "alphabetic"}, "encoding": {"x": {"datum": 44.96}, "y": {"datum": 7.295}}},
    {"mark": {"type": "rule", "style": "dash"}, "encoding": {"x": {"datum": 18}, "x2": {"datum": 100}, "y": {"datum": 3.56}}},
    {"mark": {"type": "rule", "style": "arr"}, "encoding": {"x": {"datum": 92}, "y": {"datum": 3.56}, "y2": {"datum": 3.2}}},
    {"mark": {"type": "point", "shape": "M-1,-2.5L1,-2.5L0,0Z", "filled": true, "size": 64, "opacity": 1}, "encoding": {"x": {"datum": 92}, "y": {"datum": 3.07}}},
    {"mark": {"type": "rule", "style": "arr"}, "encoding": {"x": {"datum": 17.5}, "y": {"datum": 0.1}, "y2": {"datum": 1.9}}},
    {"mark": {"type": "point", "shape": "M-1,2.5L1,2.5L0,0Z", "filled": true, "size": 64, "opacity": 1}, "encoding": {"x": {"datum": 17.5}, "y": {"datum": 2.0}}},
    {"mark": {"type": "text", "style": "pl", "text": "(b1)", "align": "left", "baseline": "middle"}, "encoding": {"x": {"datum": 1.8}, "y": {"datum": 6.33}}},
    {"mark": {"type": "text", "style": "box", "text": "soft iron", "align": "center", "baseline": "alphabetic", "dx": -37}, "encoding": {"x": {"datum": 90.7}, "y": {"datum": 6.41}}},
    {"mark": {"type": "text", "style": "bi", "text": "T", "align": "right", "baseline": "alphabetic", "dx": -47}, "encoding": {"x": {"datum": 90.7}, "y": {"datum": 5.87}}},
    {"mark": {"type": "text", "style": "sub", "text": "s", "align": "right", "baseline": "alphabetic", "dx": -41, "dy": 7}, "encoding": {"x": {"datum": 90.7}, "y": {"datum": 5.87}}},
    {"mark": {"type": "text", "style": "box", "text": "=65 K", "align": "right", "baseline": "alphabetic"}, "encoding": {"x": {"datum": 90.7}, "y": {"datum": 5.87}}},
    {"mark": {"type": "text", "style": "bi", "text": "B", "align": "right", "baseline": "alphabetic", "dx": -66}, "encoding": {"x": {"datum": 90.7}, "y": {"datum": 5.37}}},
    {"mark": {"type": "text", "style": "sub", "text": "ex", "align": "right", "baseline": "alphabetic", "dx": -53, "dy": 7}, "encoding": {"x": {"datum": 90.7}, "y": {"datum": 5.37}}},
    {"mark": {"type": "text", "style": "box", "text": "=4.05 T", "align": "right", "baseline": "alphabetic"}, "encoding": {"x": {"datum": 90.7}, "y": {"datum": 5.37}}},
    {"mark": {"type": "text", "style": "lab", "text": "B", "align": "center", "baseline": "middle"}, "encoding": {"x": {"datum": 12}, "y": {"datum": 4.5}}},
    {"mark": {"type": "text", "style": "sub", "text": "ex", "align": "left", "baseline": "middle", "dx": 6, "dy": 8}, "encoding": {"x": {"datum": 12}, "y": {"datum": 4.5}}},
    {"mark": {"type": "text", "style": "lab", "text": "B", "align": "center", "baseline": "middle"}, "encoding": {"x": {"datum": 85}, "y": {"datum": 2.67}}},
    {"mark": {"type": "text", "style": "sub", "text": "y", "align": "left", "baseline": "middle", "dx": 6, "dy": 8}, "encoding": {"x": {"datum": 85}, "y": {"datum": 2.67}}},
    {"mark": {"type": "rule", "style": "sep"}, "encoding": {"x": {"datum": 110.2}, "y": {"datum": 7.958}, "y2": {"datum": -1.52}}}
   ]}
  ]},
  {"data": {"values": [{}]}, "mark": {"type": "point", "opacity": 0},
   "encoding": {
    "x": {"datum": 0, "type": "quantitative", "scale": {"domain": [-5, 100], "nice": false, "zero": false}, "axis": {"orient": "top", "values": [0,10,20,30,40,50,60,70,80,90,100], "tickCount": 50, "labels": false, "title": null}},
    "y": {"datum": 0, "type": "quantitative", "scale": {"domain": [-0.1, 7], "nice": false, "zero": false}, "axis": {"orient": "right", "values": [0,0.5,1,1.5,2,2.5,3,3.5,4,4.5,5,5.5,6,6.5,7], "tickCount": 50, "labels": false, "title": null}}
   }}
 ]
},
{
 "width": 248, "height": 265,
 "resolve": {"axis": {"x": "independent", "y": "independent"}},
 "layer": [
  {"layer": [
   {"data": {"name": "curves"}, "transform": [{"filter": "datum.p == 'c1'"}],
    "mark": {"type": "line", "strokeWidth": 2},
    "encoding": {
     "x": {"field": "t", "type": "quantitative", "scale": {"domain": [-5, 100], "nice": false, "zero": false}, "axis": {"orient": "bottom", "values": [0,10,20,30,40,50,60,70,80,90,100], "tickCount": 50, "labelExpr": "datum.value % 20 == 0 ? datum.label : ''", "labelOverlap": false, "labelPadding": 10, "title": "Time (ms)", "titleFontSize": 14, "titlePadding": 8}},
     "y": {"field": "B", "type": "quantitative", "scale": {"domain": [-0.1, 7], "nice": false, "zero": false}, "axis": {"orient": "left", "values": [0,0.5,1,1.5,2,2.5,3,3.5,4,4.5,5,5.5,6,6.5,7], "tickCount": 50, "labels": false, "title": null}},
     "color": {"field": "s", "type": "nominal", "scale": {"domain": ["Bex", "By"], "range": ["#ec1c24", "#1c1ce0"]}, "legend": null}
    }},
   {"data": {"values": [{}]}, "layer": [
    {"mark": {"type": "text", "style": "coltitle", "text": "(c) soft iron with taper", "align": "center", "baseline": "alphabetic"}, "encoding": {"x": {"datum": 44.96}, "y": {"datum": 7.295}}},
    {"mark": {"type": "rule", "style": "dash"}, "encoding": {"x": {"datum": 20}, "x2": {"datum": 100}, "y": {"datum": 3.6}}},
    {"mark": {"type": "rule", "style": "arr"}, "encoding": {"x": {"datum": 93}, "y": {"datum": 3.6}, "y2": {"datum": 3.1}}},
    {"mark": {"type": "point", "shape": "M-1,-2.5L1,-2.5L0,0Z", "filled": true, "size": 64, "opacity": 1}, "encoding": {"x": {"datum": 93}, "y": {"datum": 2.99}}},
    {"mark": {"type": "rule", "style": "arr"}, "encoding": {"x": {"datum": 17.5}, "y": {"datum": 0.27}, "y2": {"datum": 2.0}}},
    {"mark": {"type": "point", "shape": "M-1,2.5L1,2.5L0,0Z", "filled": true, "size": 64, "opacity": 1}, "encoding": {"x": {"datum": 17.5}, "y": {"datum": 2.14}}},
    {"mark": {"type": "text", "style": "pl", "text": "(c1)", "align": "left", "baseline": "middle"}, "encoding": {"x": {"datum": 1.7}, "y": {"datum": 6.36}}},
    {"mark": {"type": "text", "style": "box", "text": "soft iron tapered", "align": "center", "baseline": "alphabetic", "dx": -37}, "encoding": {"x": {"datum": 90.7}, "y": {"datum": 6.41}}},
    {"mark": {"type": "text", "style": "bi", "text": "T", "align": "right", "baseline": "alphabetic", "dx": -47}, "encoding": {"x": {"datum": 90.7}, "y": {"datum": 5.87}}},
    {"mark": {"type": "text", "style": "sub", "text": "s", "align": "right", "baseline": "alphabetic", "dx": -41, "dy": 7}, "encoding": {"x": {"datum": 90.7}, "y": {"datum": 5.87}}},
    {"mark": {"type": "text", "style": "box", "text": "=65 K", "align": "right", "baseline": "alphabetic"}, "encoding": {"x": {"datum": 90.7}, "y": {"datum": 5.87}}},
    {"mark": {"type": "text", "style": "bi", "text": "B", "align": "right", "baseline": "alphabetic", "dx": -66}, "encoding": {"x": {"datum": 90.7}, "y": {"datum": 5.37}}},
    {"mark": {"type": "text", "style": "sub", "text": "ex", "align": "right", "baseline": "alphabetic", "dx": -53, "dy": 7}, "encoding": {"x": {"datum": 90.7}, "y": {"datum": 5.37}}},
    {"mark": {"type": "text", "style": "box", "text": "=4.08 T", "align": "right", "baseline": "alphabetic"}, "encoding": {"x": {"datum": 90.7}, "y": {"datum": 5.37}}},
    {"mark": {"type": "text", "style": "lab", "text": "B", "align": "center", "baseline": "middle"}, "encoding": {"x": {"datum": 13.7}, "y": {"datum": 4.46}}},
    {"mark": {"type": "text", "style": "sub", "text": "ex", "align": "left", "baseline": "middle", "dx": 6, "dy": 8}, "encoding": {"x": {"datum": 13.7}, "y": {"datum": 4.46}}},
    {"mark": {"type": "text", "style": "lab", "text": "B", "align": "center", "baseline": "middle"}, "encoding": {"x": {"datum": 80}, "y": {"datum": 2.5}}},
    {"mark": {"type": "text", "style": "sub", "text": "y", "align": "left", "baseline": "middle", "dx": 6, "dy": 8}, "encoding": {"x": {"datum": 80}, "y": {"datum": 2.5}}},
    {"mark": {"type": "rule", "style": "sep"}, "encoding": {"x": {"datum": 111.0}, "y": {"datum": 7.958}, "y2": {"datum": -1.52}}}
   ]}
  ]},
  {"data": {"values": [{}]}, "mark": {"type": "point", "opacity": 0},
   "encoding": {
    "x": {"datum": 0, "type": "quantitative", "scale": {"domain": [-5, 100], "nice": false, "zero": false}, "axis": {"orient": "top", "values": [0,10,20,30,40,50,60,70,80,90,100], "tickCount": 50, "labels": false, "title": null}},
    "y": {"datum": 0, "type": "quantitative", "scale": {"domain": [-0.1, 7], "nice": false, "zero": false}, "axis": {"orient": "right", "values": [0,0.5,1,1.5,2,2.5,3,3.5,4,4.5,5,5.5,6,6.5,7], "tickCount": 50, "labels": false, "title": null}}
   }}
 ]
},
{
 "width": 248, "height": 265,
 "resolve": {"axis": {"x": "independent", "y": "independent"}},
 "layer": [
  {"layer": [
   {"data": {"name": "curves"}, "transform": [{"filter": "datum.p == 'd1'"}],
    "mark": {"type": "line", "strokeWidth": 2},
    "encoding": {
     "x": {"field": "t", "type": "quantitative", "scale": {"domain": [-5, 100], "nice": false, "zero": false}, "axis": {"orient": "bottom", "values": [0,10,20,30,40,50,60,70,80,90,100], "tickCount": 50, "labelExpr": "datum.value % 20 == 0 ? datum.label : ''", "labelOverlap": false, "labelPadding": 10, "title": "Time (ms)", "titleFontSize": 14, "titlePadding": 8}},
     "y": {"field": "B", "type": "quantitative", "scale": {"domain": [-0.1, 7], "nice": false, "zero": false}, "axis": {"orient": "left", "values": [0,0.5,1,1.5,2,2.5,3,3.5,4,4.5,5,5.5,6,6.5,7], "tickCount": 50, "labels": false, "title": null}},
     "color": {"field": "s", "type": "nominal", "scale": {"domain": ["Bex", "By"], "range": ["#ec1c24", "#1c1ce0"]}, "legend": null}
    }},
   {"data": {"values": [{}]}, "layer": [
    {"mark": {"type": "text", "style": "coltitle", "text": "(d) permendur", "align": "center", "baseline": "alphabetic"}, "encoding": {"x": {"datum": 44.96}, "y": {"datum": 7.295}}},
    {"mark": {"type": "rule", "style": "dash"}, "encoding": {"x": {"datum": 18.6}, "x2": {"datum": 100}, "y": {"datum": 3.19}}},
    {"mark": {"type": "rule", "style": "arr"}, "encoding": {"x": {"datum": 91.5}, "y": {"datum": 3.19}, "y2": {"datum": 2.9}}},
    {"mark": {"type": "point", "shape": "M-1,-2.5L1,-2.5L0,0Z", "filled": true, "size": 64, "opacity": 1}, "encoding": {"x": {"datum": 91.5}, "y": {"datum": 2.76}}},
    {"mark": {"type": "rule", "style": "arr"}, "encoding": {"x": {"datum": 17.7}, "y": {"datum": 0.12}, "y2": {"datum": 1.8}}},
    {"mark": {"type": "point", "shape": "M-1,2.5L1,2.5L0,0Z", "filled": true, "size": 64, "opacity": 1}, "encoding": {"x": {"datum": 17.7}, "y": {"datum": 1.9}}},
    {"mark": {"type": "text", "style": "pl", "text": "(d1)", "align": "left", "baseline": "middle"}, "encoding": {"x": {"datum": 1.4}, "y": {"datum": 6.33}}},
    {"mark": {"type": "text", "style": "box", "text": "permendur", "align": "center", "baseline": "alphabetic", "dx": -37}, "encoding": {"x": {"datum": 90.7}, "y": {"datum": 6.41}}},
    {"mark": {"type": "text", "style": "bi", "text": "T", "align": "right", "baseline": "alphabetic", "dx": -47}, "encoding": {"x": {"datum": 90.7}, "y": {"datum": 5.87}}},
    {"mark": {"type": "text", "style": "sub", "text": "s", "align": "right", "baseline": "alphabetic", "dx": -41, "dy": 7}, "encoding": {"x": {"datum": 90.7}, "y": {"datum": 5.87}}},
    {"mark": {"type": "text", "style": "box", "text": "=65 K", "align": "right", "baseline": "alphabetic"}, "encoding": {"x": {"datum": 90.7}, "y": {"datum": 5.87}}},
    {"mark": {"type": "text", "style": "bi", "text": "B", "align": "right", "baseline": "alphabetic", "dx": -66}, "encoding": {"x": {"datum": 90.7}, "y": {"datum": 5.37}}},
    {"mark": {"type": "text", "style": "sub", "text": "ex", "align": "right", "baseline": "alphabetic", "dx": -53, "dy": 7}, "encoding": {"x": {"datum": 90.7}, "y": {"datum": 5.37}}},
    {"mark": {"type": "text", "style": "box", "text": "=3.94 T", "align": "right", "baseline": "alphabetic"}, "encoding": {"x": {"datum": 90.7}, "y": {"datum": 5.37}}},
    {"mark": {"type": "text", "style": "lab", "text": "B", "align": "center", "baseline": "middle"}, "encoding": {"x": {"datum": 20.5}, "y": {"datum": 4.21}}},
    {"mark": {"type": "text", "style": "sub", "text": "ex", "align": "left", "baseline": "middle", "dx": 6, "dy": 8}, "encoding": {"x": {"datum": 20.5}, "y": {"datum": 4.21}}},
    {"mark": {"type": "text", "style": "lab", "text": "B", "align": "center", "baseline": "middle"}, "encoding": {"x": {"datum": 87}, "y": {"datum": 2.43}}},
    {"mark": {"type": "text", "style": "sub", "text": "y", "align": "left", "baseline": "middle", "dx": 6, "dy": 8}, "encoding": {"x": {"datum": 87}, "y": {"datum": 2.43}}}
   ]}
  ]},
  {"data": {"values": [{}]}, "mark": {"type": "point", "opacity": 0},
   "encoding": {
    "x": {"datum": 0, "type": "quantitative", "scale": {"domain": [-5, 100], "nice": false, "zero": false}, "axis": {"orient": "top", "values": [0,10,20,30,40,50,60,70,80,90,100], "tickCount": 50, "labels": false, "title": null}},
    "y": {"datum": 0, "type": "quantitative", "scale": {"domain": [-0.1, 7], "nice": false, "zero": false}, "axis": {"orient": "right", "values": [0,0.5,1,1.5,2,2.5,3,3.5,4,4.5,5,5.5,6,6.5,7], "tickCount": 50, "labels": false, "title": null}}
   }}
 ]
}
], "spacing": 49, "bounds": "flush"},
{"hconcat": [
{
 "width": 248, "height": 265,
 "resolve": {"axis": {"x": "independent", "y": "independent"}},
 "layer": [
  {"layer": [
   {"data": {"name": "curves"}, "transform": [{"filter": "datum.p == 'a2'"}],
    "mark": {"type": "line", "strokeWidth": 2},
    "encoding": {
     "x": {"field": "t", "type": "quantitative", "scale": {"domain": [-5, 100], "nice": false, "zero": false}, "axis": {"orient": "bottom", "values": [0,10,20,30,40,50,60,70,80,90,100], "tickCount": 50, "labelExpr": "datum.value % 20 == 0 ? datum.label : ''", "labelOverlap": false, "labelPadding": 10, "title": "Time (ms)", "titleFontSize": 14, "titlePadding": 8}},
     "y": {"field": "B", "type": "quantitative", "scale": {"domain": [-0.1, 7], "nice": false, "zero": false}, "axis": {"orient": "left", "values": [0,0.5,1,1.5,2,2.5,3,3.5,4,4.5,5,5.5,6,6.5,7], "tickCount": 50, "labelExpr": "datum.value % 1 == 0 ? format(datum.value, 'd') : ''", "labelOverlap": false, "labelPadding": 11, "title": "B (T)", "titleFontSize": 12, "titleX": -26, "titleY": 119, "titleAngle": 270, "titleAlign": "center", "titleBaseline": "middle"}},
     "color": {"field": "s", "type": "nominal", "scale": {"domain": ["Bex", "By"], "range": ["#ec1c24", "#1c1ce0"]}, "legend": null}
    }},
   {"data": {"values": [{}]}, "layer": [
    {"mark": {"type": "rule", "style": "dash"}, "encoding": {"x": {"datum": 17}, "x2": {"datum": 100}, "y": {"datum": 4.86}}},
    {"mark": {"type": "rule", "style": "arr"}, "encoding": {"x": {"datum": 90}, "y": {"datum": 4.86}, "y2": {"datum": 2.0}}},
    {"mark": {"type": "point", "shape": "M-1,-2.5L1,-2.5L0,0Z", "filled": true, "size": 64, "opacity": 1}, "encoding": {"x": {"datum": 90}, "y": {"datum": 1.88}}},
    {"mark": {"type": "rule", "style": "arr"}, "encoding": {"x": {"datum": 15.3}, "y": {"datum": 0.22}, "y2": {"datum": 2.95}}},
    {"mark": {"type": "point", "shape": "M-1,2.5L1,2.5L0,0Z", "filled": true, "size": 64, "opacity": 1}, "encoding": {"x": {"datum": 15.3}, "y": {"datum": 3.08}}},
    {"mark": {"type": "text", "style": "pl", "text": "(a2)", "align": "left", "baseline": "middle"}, "encoding": {"x": {"datum": 1.5}, "y": {"datum": 6.33}}},
    {"mark": {"type": "text", "style": "box", "text": "split w/o yoke", "align": "center", "baseline": "alphabetic", "dx": -37}, "encoding": {"x": {"datum": 90.7}, "y": {"datum": 6.41}}},
    {"mark": {"type": "text", "style": "bi", "text": "T", "align": "right", "baseline": "alphabetic", "dx": -47}, "encoding": {"x": {"datum": 90.7}, "y": {"datum": 5.87}}},
    {"mark": {"type": "text", "style": "sub", "text": "s", "align": "right", "baseline": "alphabetic", "dx": -41, "dy": 7}, "encoding": {"x": {"datum": 90.7}, "y": {"datum": 5.87}}},
    {"mark": {"type": "text", "style": "box", "text": "=40 K", "align": "right", "baseline": "alphabetic"}, "encoding": {"x": {"datum": 90.7}, "y": {"datum": 5.87}}},
    {"mark": {"type": "text", "style": "bi", "text": "B", "align": "right", "baseline": "alphabetic", "dx": -66}, "encoding": {"x": {"datum": 90.7}, "y": {"datum": 5.37}}},
    {"mark": {"type": "text", "style": "sub", "text": "ex", "align": "right", "baseline": "alphabetic", "dx": -53, "dy": 7}, "encoding": {"x": {"datum": 90.7}, "y": {"datum": 5.37}}},
    {"mark": {"type": "text", "style": "box", "text": "=5.36 T", "align": "right", "baseline": "alphabetic"}, "encoding": {"x": {"datum": 90.7}, "y": {"datum": 5.37}}},
    {"mark": {"type": "text", "style": "lab", "text": "B", "align": "center", "baseline": "middle"}, "encoding": {"x": {"datum": 24.5}, "y": {"datum": 5.66}}},
    {"mark": {"type": "text", "style": "sub", "text": "ex", "align": "left", "baseline": "middle", "dx": 6, "dy": 8}, "encoding": {"x": {"datum": 24.5}, "y": {"datum": 5.66}}},
    {"mark": {"type": "text", "style": "lab", "text": "B", "align": "center", "baseline": "middle"}, "encoding": {"x": {"datum": 85.3}, "y": {"datum": 1.12}}},
    {"mark": {"type": "text", "style": "sub", "text": "y", "align": "left", "baseline": "middle", "dx": 6, "dy": 8}, "encoding": {"x": {"datum": 85.3}, "y": {"datum": 1.12}}},
    {"mark": {"type": "text", "style": "fj", "text": "Flow", "align": "center", "baseline": "middle"}, "encoding": {"x": {"datum": 77.3}, "y": {"datum": 3.43}}},
    {"mark": {"type": "text", "style": "fj", "text": "Jump", "align": "center", "baseline": "middle"}, "encoding": {"x": {"datum": 30.2}, "y": {"datum": 1.65}}},
    {"mark": {"type": "text", "style": "rowlab", "text": "T", "fontStyle": "italic", "align": "left", "baseline": "alphabetic", "angle": 270}, "encoding": {"x": {"datum": -29.1}, "y": {"datum": 1.93}}},
    {"mark": {"type": "text", "style": "rowlab", "text": "S", "fontSize": 17, "align": "left", "baseline": "alphabetic", "angle": 270, "dx": 18, "dy": 6}, "encoding": {"x": {"datum": -29.1}, "y": {"datum": 1.93}}},
    {"mark": {"type": "text", "style": "rowlab", "text": "= 40 K", "align": "left", "baseline": "alphabetic", "angle": 270, "dx": 34}, "encoding": {"x": {"datum": -29.1}, "y": {"datum": 1.93}}},
    {"mark": {"type": "rule", "style": "sep"}, "encoding": {"x": {"datum": 109.3}, "y": {"datum": 7.469}, "y2": {"datum": -1.494}}},
    {"mark": {"type": "rule", "color": "white", "strokeWidth": 1}, "encoding": {"x": {"datum": -42.05}, "x2": {"datum": -40}, "y": {"datum": 0.5}}}
   ]}
  ]},
  {"data": {"values": [{}]}, "mark": {"type": "point", "opacity": 0},
   "encoding": {
    "x": {"datum": 0, "type": "quantitative", "scale": {"domain": [-5, 100], "nice": false, "zero": false}, "axis": {"orient": "top", "values": [0,10,20,30,40,50,60,70,80,90,100], "tickCount": 50, "labels": false, "title": null}},
    "y": {"datum": 0, "type": "quantitative", "scale": {"domain": [-0.1, 7], "nice": false, "zero": false}, "axis": {"orient": "right", "values": [0,0.5,1,1.5,2,2.5,3,3.5,4,4.5,5,5.5,6,6.5,7], "tickCount": 50, "labels": false, "title": null}}
   }}
 ]
},
{
 "width": 248, "height": 265,
 "resolve": {"axis": {"x": "independent", "y": "independent"}},
 "layer": [
  {"layer": [
   {"data": {"name": "curves"}, "transform": [{"filter": "datum.p == 'b2'"}],
    "mark": {"type": "line", "strokeWidth": 2},
    "encoding": {
     "x": {"field": "t", "type": "quantitative", "scale": {"domain": [-5, 100], "nice": false, "zero": false}, "axis": {"orient": "bottom", "values": [0,10,20,30,40,50,60,70,80,90,100], "tickCount": 50, "labelExpr": "datum.value % 20 == 0 ? datum.label : ''", "labelOverlap": false, "labelPadding": 10, "title": "Time (ms)", "titleFontSize": 14, "titlePadding": 8}},
     "y": {"field": "B", "type": "quantitative", "scale": {"domain": [-0.1, 7], "nice": false, "zero": false}, "axis": {"orient": "left", "values": [0,0.5,1,1.5,2,2.5,3,3.5,4,4.5,5,5.5,6,6.5,7], "tickCount": 50, "labels": false, "title": null}},
     "color": {"field": "s", "type": "nominal", "scale": {"domain": ["Bex", "By"], "range": ["#ec1c24", "#1c1ce0"]}, "legend": null}
    }},
   {"data": {"values": [{}]}, "layer": [
    {"mark": {"type": "rule", "style": "dash"}, "encoding": {"x": {"datum": 14}, "x2": {"datum": 100}, "y": {"datum": 4.01}}},
    {"mark": {"type": "rule", "style": "arr"}, "encoding": {"x": {"datum": 89.2}, "y": {"datum": 4.01}, "y2": {"datum": 3.45}}},
    {"mark": {"type": "point", "shape": "M-1,-2.5L1,-2.5L0,0Z", "filled": true, "size": 64, "opacity": 1}, "encoding": {"x": {"datum": 89.2}, "y": {"datum": 3.33}}},
    {"mark": {"type": "rule", "style": "arr"}, "encoding": {"x": {"datum": 17.6}, "y": {"datum": 0.18}, "y2": {"datum": 2.9}}},
    {"mark": {"type": "point", "shape": "M-1,2.5L1,2.5L0,0Z", "filled": true, "size": 64, "opacity": 1}, "encoding": {"x": {"datum": 17.6}, "y": {"datum": 3.03}}},
    {"mark": {"type": "text", "style": "pl", "text": "(b2)", "align": "left", "baseline": "middle"}, "encoding": {"x": {"datum": 1.7}, "y": {"datum": 6.33}}},
    {"mark": {"type": "text", "style": "box", "text": "soft iron", "align": "center", "baseline": "alphabetic", "dx": -37}, "encoding": {"x": {"datum": 90.7}, "y": {"datum": 6.41}}},
    {"mark": {"type": "text", "style": "bi", "text": "T", "align": "right", "baseline": "alphabetic", "dx": -47}, "encoding": {"x": {"datum": 90.7}, "y": {"datum": 5.87}}},
    {"mark": {"type": "text", "style": "sub", "text": "s", "align": "right", "baseline": "alphabetic", "dx": -41, "dy": 7}, "encoding": {"x": {"datum": 90.7}, "y": {"datum": 5.87}}},
    {"mark": {"type": "text", "style": "box", "text": "=40 K", "align": "right", "baseline": "alphabetic"}, "encoding": {"x": {"datum": 90.7}, "y": {"datum": 5.87}}},
    {"mark": {"type": "text", "style": "bi", "text": "B", "align": "right", "baseline": "alphabetic", "dx": -66}, "encoding": {"x": {"datum": 90.7}, "y": {"datum": 5.37}}},
    {"mark": {"type": "text", "style": "sub", "text": "ex", "align": "right", "baseline": "alphabetic", "dx": -53, "dy": 7}, "encoding": {"x": {"datum": 90.7}, "y": {"datum": 5.37}}},
    {"mark": {"type": "text", "style": "box", "text": "=5.38 T", "align": "right", "baseline": "alphabetic"}, "encoding": {"x": {"datum": 90.7}, "y": {"datum": 5.37}}},
    {"mark": {"type": "text", "style": "lab", "text": "B", "align": "center", "baseline": "middle"}, "encoding": {"x": {"datum": 6.7}, "y": {"datum": 5.17}}},
    {"mark": {"type": "text", "style": "sub", "text": "ex", "align": "left", "baseline": "middle", "dx": 6, "dy": 8}, "encoding": {"x": {"datum": 6.7}, "y": {"datum": 5.17}}},
    {"mark": {"type": "text", "style": "lab", "text": "B", "align": "center", "baseline": "middle"}, "encoding": {"x": {"datum": 85.4}, "y": {"datum": 2.72}}},
    {"mark": {"type": "text", "style": "sub", "text": "y", "align": "left", "baseline": "middle", "dx": 6, "dy": 8}, "encoding": {"x": {"datum": 85.4}, "y": {"datum": 2.72}}},
    {"mark": {"type": "rule", "style": "sep"}, "encoding": {"x": {"datum": 110.2}, "y": {"datum": 7.469}, "y2": {"datum": -1.494}}}
   ]}
  ]},
  {"data": {"values": [{}]}, "mark": {"type": "point", "opacity": 0},
   "encoding": {
    "x": {"datum": 0, "type": "quantitative", "scale": {"domain": [-5, 100], "nice": false, "zero": false}, "axis": {"orient": "top", "values": [0,10,20,30,40,50,60,70,80,90,100], "tickCount": 50, "labels": false, "title": null}},
    "y": {"datum": 0, "type": "quantitative", "scale": {"domain": [-0.1, 7], "nice": false, "zero": false}, "axis": {"orient": "right", "values": [0,0.5,1,1.5,2,2.5,3,3.5,4,4.5,5,5.5,6,6.5,7], "tickCount": 50, "labels": false, "title": null}}
   }}
 ]
},
{
 "width": 248, "height": 265,
 "resolve": {"axis": {"x": "independent", "y": "independent"}},
 "layer": [
  {"layer": [
   {"data": {"name": "curves"}, "transform": [{"filter": "datum.p == 'c2'"}],
    "mark": {"type": "line", "strokeWidth": 2},
    "encoding": {
     "x": {"field": "t", "type": "quantitative", "scale": {"domain": [-5, 100], "nice": false, "zero": false}, "axis": {"orient": "bottom", "values": [0,10,20,30,40,50,60,70,80,90,100], "tickCount": 50, "labelExpr": "datum.value % 20 == 0 ? datum.label : ''", "labelOverlap": false, "labelPadding": 10, "title": "Time (ms)", "titleFontSize": 14, "titlePadding": 8}},
     "y": {"field": "B", "type": "quantitative", "scale": {"domain": [-0.1, 7], "nice": false, "zero": false}, "axis": {"orient": "left", "values": [0,0.5,1,1.5,2,2.5,3,3.5,4,4.5,5,5.5,6,6.5,7], "tickCount": 50, "labels": false, "title": null}},
     "color": {"field": "s", "type": "nominal", "scale": {"domain": ["Bex", "By"], "range": ["#ec1c24", "#1c1ce0"]}, "legend": null}
    }},
   {"data": {"values": [{}]}, "layer": [
    {"mark": {"type": "rule", "style": "dash"}, "encoding": {"x": {"datum": 18}, "x2": {"datum": 100}, "y": {"datum": 3.95}}},
    {"mark": {"type": "rule", "style": "arr"}, "encoding": {"x": {"datum": 90.2}, "y": {"datum": 3.95}, "y2": {"datum": 3.27}}},
    {"mark": {"type": "point", "shape": "M-1,-2.5L1,-2.5L0,0Z", "filled": true, "size": 64, "opacity": 1}, "encoding": {"x": {"datum": 90.2}, "y": {"datum": 3.15}}},
    {"mark": {"type": "rule", "style": "arr"}, "encoding": {"x": {"datum": 16.8}, "y": {"datum": 0.4}, "y2": {"datum": 2.6}}},
    {"mark": {"type": "point", "shape": "M-1,2.5L1,2.5L0,0Z", "filled": true, "size": 64, "opacity": 1}, "encoding": {"x": {"datum": 16.8}, "y": {"datum": 2.7}}},
    {"mark": {"type": "text", "style": "pl", "text": "(c2)", "align": "left", "baseline": "middle"}, "encoding": {"x": {"datum": 1.1}, "y": {"datum": 6.38}}},
    {"mark": {"type": "text", "style": "box", "text": "soft iron tapered", "align": "center", "baseline": "alphabetic", "dx": -37}, "encoding": {"x": {"datum": 90.7}, "y": {"datum": 6.41}}},
    {"mark": {"type": "text", "style": "bi", "text": "T", "align": "right", "baseline": "alphabetic", "dx": -47}, "encoding": {"x": {"datum": 90.7}, "y": {"datum": 5.87}}},
    {"mark": {"type": "text", "style": "sub", "text": "s", "align": "right", "baseline": "alphabetic", "dx": -41, "dy": 7}, "encoding": {"x": {"datum": 90.7}, "y": {"datum": 5.87}}},
    {"mark": {"type": "text", "style": "box", "text": "=40 K", "align": "right", "baseline": "alphabetic"}, "encoding": {"x": {"datum": 90.7}, "y": {"datum": 5.87}}},
    {"mark": {"type": "text", "style": "bi", "text": "B", "align": "right", "baseline": "alphabetic", "dx": -66}, "encoding": {"x": {"datum": 90.7}, "y": {"datum": 5.37}}},
    {"mark": {"type": "text", "style": "sub", "text": "ex", "align": "right", "baseline": "alphabetic", "dx": -53, "dy": 7}, "encoding": {"x": {"datum": 90.7}, "y": {"datum": 5.37}}},
    {"mark": {"type": "text", "style": "box", "text": "=5.48 T", "align": "right", "baseline": "alphabetic"}, "encoding": {"x": {"datum": 90.7}, "y": {"datum": 5.37}}},
    {"mark": {"type": "text", "style": "lab", "text": "B", "align": "center", "baseline": "middle"}, "encoding": {"x": {"datum": 10.2}, "y": {"datum": 5.67}}},
    {"mark": {"type": "text", "style": "sub", "text": "ex", "align": "left", "baseline": "middle", "dx": 6, "dy": 8}, "encoding": {"x": {"datum": 10.2}, "y": {"datum": 5.67}}},
    {"mark": {"type": "text", "style": "lab", "text": "B", "align": "center", "baseline": "middle"}, "encoding": {"x": {"datum": 83.9}, "y": {"datum": 2.59}}},
    {"mark": {"type": "text", "style": "sub", "text": "y", "align": "left", "baseline": "middle", "dx": 6, "dy": 8}, "encoding": {"x": {"datum": 83.9}, "y": {"datum": 2.59}}},
    {"mark": {"type": "rule", "style": "sep"}, "encoding": {"x": {"datum": 111.0}, "y": {"datum": 7.469}, "y2": {"datum": -1.494}}}
   ]}
  ]},
  {"data": {"values": [{}]}, "mark": {"type": "point", "opacity": 0},
   "encoding": {
    "x": {"datum": 0, "type": "quantitative", "scale": {"domain": [-5, 100], "nice": false, "zero": false}, "axis": {"orient": "top", "values": [0,10,20,30,40,50,60,70,80,90,100], "tickCount": 50, "labels": false, "title": null}},
    "y": {"datum": 0, "type": "quantitative", "scale": {"domain": [-0.1, 7], "nice": false, "zero": false}, "axis": {"orient": "right", "values": [0,0.5,1,1.5,2,2.5,3,3.5,4,4.5,5,5.5,6,6.5,7], "tickCount": 50, "labels": false, "title": null}}
   }}
 ]
},
{
 "width": 248, "height": 265,
 "resolve": {"axis": {"x": "independent", "y": "independent"}},
 "layer": [
  {"layer": [
   {"data": {"name": "curves"}, "transform": [{"filter": "datum.p == 'd2'"}],
    "mark": {"type": "line", "strokeWidth": 2},
    "encoding": {
     "x": {"field": "t", "type": "quantitative", "scale": {"domain": [-5, 100], "nice": false, "zero": false}, "axis": {"orient": "bottom", "values": [0,10,20,30,40,50,60,70,80,90,100], "tickCount": 50, "labelExpr": "datum.value % 20 == 0 ? datum.label : ''", "labelOverlap": false, "labelPadding": 10, "title": "Time (ms)", "titleFontSize": 14, "titlePadding": 8}},
     "y": {"field": "B", "type": "quantitative", "scale": {"domain": [-0.1, 7], "nice": false, "zero": false}, "axis": {"orient": "left", "values": [0,0.5,1,1.5,2,2.5,3,3.5,4,4.5,5,5.5,6,6.5,7], "tickCount": 50, "labels": false, "title": null}},
     "color": {"field": "s", "type": "nominal", "scale": {"domain": ["Bex", "By"], "range": ["#ec1c24", "#1c1ce0"]}, "legend": null}
    }},
   {"data": {"values": [{}]}, "layer": [
    {"mark": {"type": "rule", "style": "dash"}, "encoding": {"x": {"datum": 16.3}, "x2": {"datum": 100}, "y": {"datum": 4.27}}},
    {"mark": {"type": "rule", "style": "arr"}, "encoding": {"x": {"datum": 89.6}, "y": {"datum": 4.27}, "y2": {"datum": 3.62}}},
    {"mark": {"type": "point", "shape": "M-1,-2.5L1,-2.5L0,0Z", "filled": true, "size": 64, "opacity": 1}, "encoding": {"x": {"datum": 89.6}, "y": {"datum": 3.5}}},
    {"mark": {"type": "rule", "style": "arr"}, "encoding": {"x": {"datum": 14.9}, "y": {"datum": 0.05}, "y2": {"datum": 2.25}}},
    {"mark": {"type": "point", "shape": "M-1,2.5L1,2.5L0,0Z", "filled": true, "size": 64, "opacity": 1}, "encoding": {"x": {"datum": 14.9}, "y": {"datum": 2.37}}},
    {"mark": {"type": "text", "style": "pl", "text": "(d2)", "align": "left", "baseline": "middle"}, "encoding": {"x": {"datum": 0.5}, "y": {"datum": 6.3}}},
    {"mark": {"type": "text", "style": "box", "text": "permendur", "align": "center", "baseline": "alphabetic", "dx": -37}, "encoding": {"x": {"datum": 90.7}, "y": {"datum": 6.41}}},
    {"mark": {"type": "text", "style": "bi", "text": "T", "align": "right", "baseline": "alphabetic", "dx": -47}, "encoding": {"x": {"datum": 90.7}, "y": {"datum": 5.87}}},
    {"mark": {"type": "text", "style": "sub", "text": "s", "align": "right", "baseline": "alphabetic", "dx": -41, "dy": 7}, "encoding": {"x": {"datum": 90.7}, "y": {"datum": 5.87}}},
    {"mark": {"type": "text", "style": "box", "text": "=40 K", "align": "right", "baseline": "alphabetic"}, "encoding": {"x": {"datum": 90.7}, "y": {"datum": 5.87}}},
    {"mark": {"type": "text", "style": "bi", "text": "B", "align": "right", "baseline": "alphabetic", "dx": -66}, "encoding": {"x": {"datum": 90.7}, "y": {"datum": 5.37}}},
    {"mark": {"type": "text", "style": "sub", "text": "ex", "align": "right", "baseline": "alphabetic", "dx": -53, "dy": 7}, "encoding": {"x": {"datum": 90.7}, "y": {"datum": 5.37}}},
    {"mark": {"type": "text", "style": "box", "text": "=5.26 T", "align": "right", "baseline": "alphabetic"}, "encoding": {"x": {"datum": 90.7}, "y": {"datum": 5.37}}},
    {"mark": {"type": "text", "style": "lab", "text": "B", "align": "center", "baseline": "middle"}, "encoding": {"x": {"datum": 7.4}, "y": {"datum": 5.22}}},
    {"mark": {"type": "text", "style": "sub", "text": "ex", "align": "left", "baseline": "middle", "dx": 6, "dy": 8}, "encoding": {"x": {"datum": 7.4}, "y": {"datum": 5.22}}},
    {"mark": {"type": "text", "style": "lab", "text": "B", "align": "center", "baseline": "middle"}, "encoding": {"x": {"datum": 86.8}, "y": {"datum": 2.9}}},
    {"mark": {"type": "text", "style": "sub", "text": "y", "align": "left", "baseline": "middle", "dx": 6, "dy": 8}, "encoding": {"x": {"datum": 86.8}, "y": {"datum": 2.9}}}
   ]}
  ]},
  {"data": {"values": [{}]}, "mark": {"type": "point", "opacity": 0},
   "encoding": {
    "x": {"datum": 0, "type": "quantitative", "scale": {"domain": [-5, 100], "nice": false, "zero": false}, "axis": {"orient": "top", "values": [0,10,20,30,40,50,60,70,80,90,100], "tickCount": 50, "labels": false, "title": null}},
    "y": {"datum": 0, "type": "quantitative", "scale": {"domain": [-0.1, 7], "nice": false, "zero": false}, "axis": {"orient": "right", "values": [0,0.5,1,1.5,2,2.5,3,3.5,4,4.5,5,5.5,6,6.5,7], "tickCount": 50, "labels": false, "title": null}}
   }}
 ]
}
], "spacing": 49, "bounds": "flush"}
]
}
